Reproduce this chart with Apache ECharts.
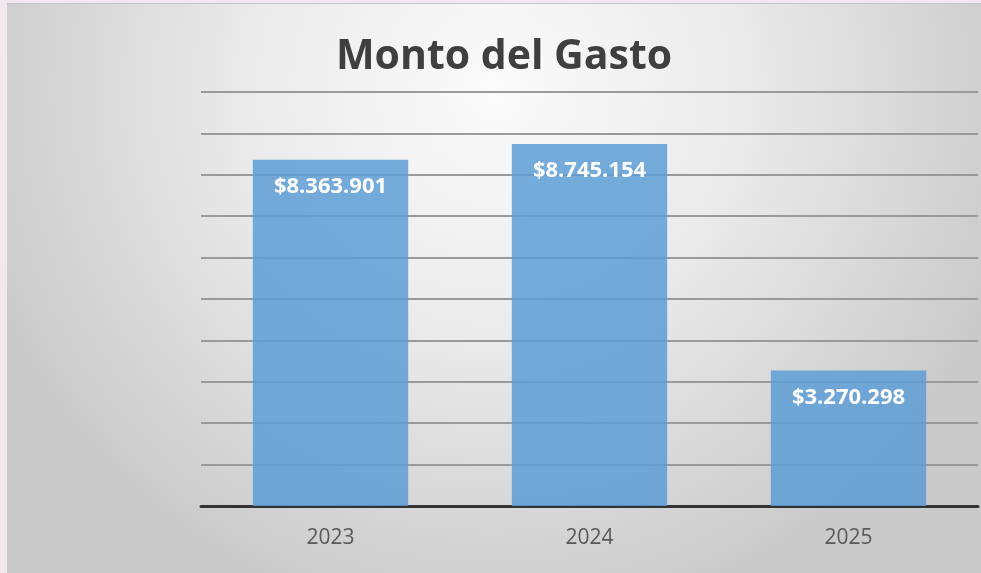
<!DOCTYPE html>
<html>
<head>
<meta charset="utf-8">
<script src="https://cdn.jsdelivr.net/npm/echarts@6/dist/echarts.min.js"></script>
<style>
	html, body {
		margin: 0;
		padding: 0;
		width: 981px;
		height: 573px;
		background: #f4e8f0;
		overflow: hidden;
	}
	#chart {
		position: absolute;
		left: 7px;
		top: 3px;
		width: 974px;
		height: 570px;
		border-top: 1px solid #c4c4c4;
	}
</style>
</head>
<body>
<div id="chart"></div>
<script>
	// datos del gráfico
	var categories = ['2023', '2024', '2025'];
	var montos = [8363901, 8745154, 3270298];
	var yMax = 10000000;
	var yInterval = 1000000;

	// formato $8.363.901
	function formatoPesos(v) {
		return '$' + String(v).replace(/\B(?=(\d{3})+(?!\d))/g, '.');
	}

	var myChart = echarts.init(document.getElementById('chart'));
	var option = {
		backgroundColor: {
			type: 'radial',
			x: 0.5, y: 0.15, r: 0.95,
			colorStops: [
				{ offset: 0, color: '#fbfbfb' },
				{ offset: 0.45, color: '#ebebeb' },
				{ offset: 1, color: '#cacaca' }
			]
		},
		title: {
			text: 'Monto del Gasto',
			left: 492,
			textAlign: 'center',
			top: 28,
			textStyle: {
				color: '#3f3f3f',
				fontFamily: 'Open Sans',
				fontWeight: 'bold',
				fontSize: 41
			}
		},
		grid: {
			left: 194,
			right: 3,
			top: 88,
			bottom: 68,
			containLabel: false
		},
		xAxis: {
			type: 'category',
			data: categories,
			axisLine: { lineStyle: { color: '#333333', width: 3 } },
			axisTick: { show: false },
			axisLabel: {
				color: '#595959',
				fontFamily: 'Open Sans',
				fontSize: 21,
				margin: 22
			}
		},
		yAxis: {
			type: 'value',
			min: 0,
			max: yMax,
			interval: yInterval,
			axisLabel: { show: false },
			axisLine: { show: false },
			axisTick: { show: false },
			splitLine: { lineStyle: { color: '#9a9a9a', width: 2 } }
		},
		series: [
			{
				type: 'bar',
				data: montos,
				barWidth: '60%',
				z: 1,
				itemStyle: { color: 'rgba(94, 157, 214, 0.85)' },
				label: {
					show: true,
					position: 'insideTop',
					distance: 16,
					color: '#ffffff',
					fontFamily: 'Open Sans',
					fontWeight: 'bold',
					fontSize: 22,
					formatter: function (p) { return formatoPesos(p.value); }
				}
			}
		]
	};
	myChart.setOption(option);
</script>
</body>
</html>
